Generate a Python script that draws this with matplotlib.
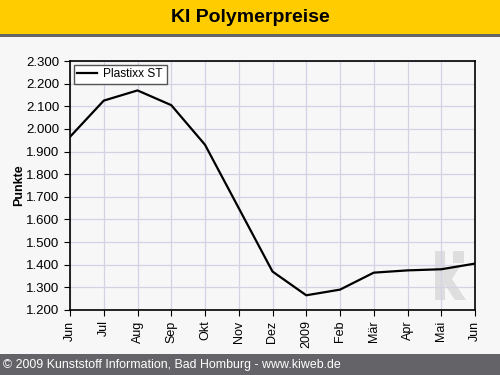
import matplotlib.pyplot as plt
from matplotlib.patches import Rectangle, Polygon
from matplotlib.ticker import FuncFormatter

# monthly index, Jun 2008 .. Jun 2009
months = ['Jun', 'Jul', 'Aug', 'Sep', 'Okt', 'Nov', 'Dez', '2009',
          'Feb', 'Mär', 'Apr', 'Mai', 'Jun']
plastixx_st = [1965, 2125, 2170, 2105, 1930, 1650, 1370, 1265,
               1290, 1365, 1375, 1380, 1405]
y_ticks = list(range(1200, 2301, 100))

plt.rcParams['font.family'] = ['Liberation Sans', 'DejaVu Sans']

W, H = 500, 375
fig = plt.figure(figsize=(5, 3.75), dpi=100)
fig.patch.set_facecolor('#f7f7f7')


def px(x, y):
    # pixel (from top left) -> figure fraction
    return (x / W, 1 - y / H)


# header and footer bars
fig.patches.append(Rectangle((0, 1 - 34 / H), 1, 34 / H, transform=fig.transFigure,
                             facecolor='#ffcc00', edgecolor='none', zorder=0))
fig.patches.append(Rectangle((0, 1 - 37 / H), 1, 3 / H, transform=fig.transFigure,
                             facecolor='#666666', edgecolor='none', zorder=0))
fig.patches.append(Rectangle((0, 0), 1, 21 / H, transform=fig.transFigure,
                             facecolor='#646468', edgecolor='none', zorder=0))
fig.text(0.5, 1 - 17 / H, 'KI Polymerpreise', ha='center', va='center',
         fontsize=14, fontweight='bold', color='black')
fig.text(0.006, 10 / H, '© 2009 Kunststoff Information, Bad Homburg - www.kiweb.de',
         ha='left', va='center', fontsize=8.9, color='white')

ax = fig.add_axes([70 / W, 1 - 310 / H, 405 / W, 249 / H])
ax.set_facecolor('#fafafa')

x = list(range(len(months)))
ax.plot(x, plastixx_st, color='black', linewidth=1.6, label='Plastixx ST', zorder=3)

# "ki" watermark logo, drawn behind the line
wm = '#dedede'
fig.patches.append(Rectangle(px(435, 300), 10 / W, 49 / H, transform=fig.transFigure,
                             facecolor=wm, edgecolor='none', zorder=1))
fig.patches.append(Rectangle(px(453, 263), 11 / W, 12 / H, transform=fig.transFigure,
                             facecolor=wm, edgecolor='none', zorder=1))
arm = [px(445, 270), px(453, 265), px(461, 265), px(452, 279),
       px(466, 300), px(455, 300), px(445, 285)]
fig.patches.append(Polygon(arm, closed=True, transform=fig.transFigure,
                           facecolor=wm, edgecolor='none', zorder=1))
ax.set_zorder(2)
ax.patch.set_alpha(0)

ax.set_xlim(0, len(months) - 1)
ax.set_ylim(1200, 2300)
ax.set_xticks(x)
ax.set_xticklabels(months, rotation=90, fontsize=9)
ax.set_yticks(y_ticks)
ax.yaxis.set_major_formatter(FuncFormatter(lambda v, p: f'{int(v):,}'.replace(',', '.')))
ax.tick_params(axis='y', labelsize=9.5)
ax.tick_params(length=4, color='black', direction='out')
ax.grid(True, color='#d4d2e4', linewidth=0.9, zorder=0)
ax.set_axisbelow(True)
for s in ax.spines.values():
    s.set_color('black')
    s.set_linewidth(1.2)
ax.set_ylabel('Punkte', fontsize=9, fontweight='bold')
ax.yaxis.set_label_coords(-0.11, 0.5)

leg = ax.legend(loc='upper left', fontsize=8.6, frameon=True, fancybox=False,
                borderpad=0.3, handlelength=1.7, handletextpad=0.5, borderaxespad=0.3)
leg.get_frame().set_edgecolor('#555555')
leg.get_frame().set_facecolor('white')
leg.get_frame().set_alpha(1)

fig.savefig('out.png', dpi=100, facecolor=fig.get_facecolor())
